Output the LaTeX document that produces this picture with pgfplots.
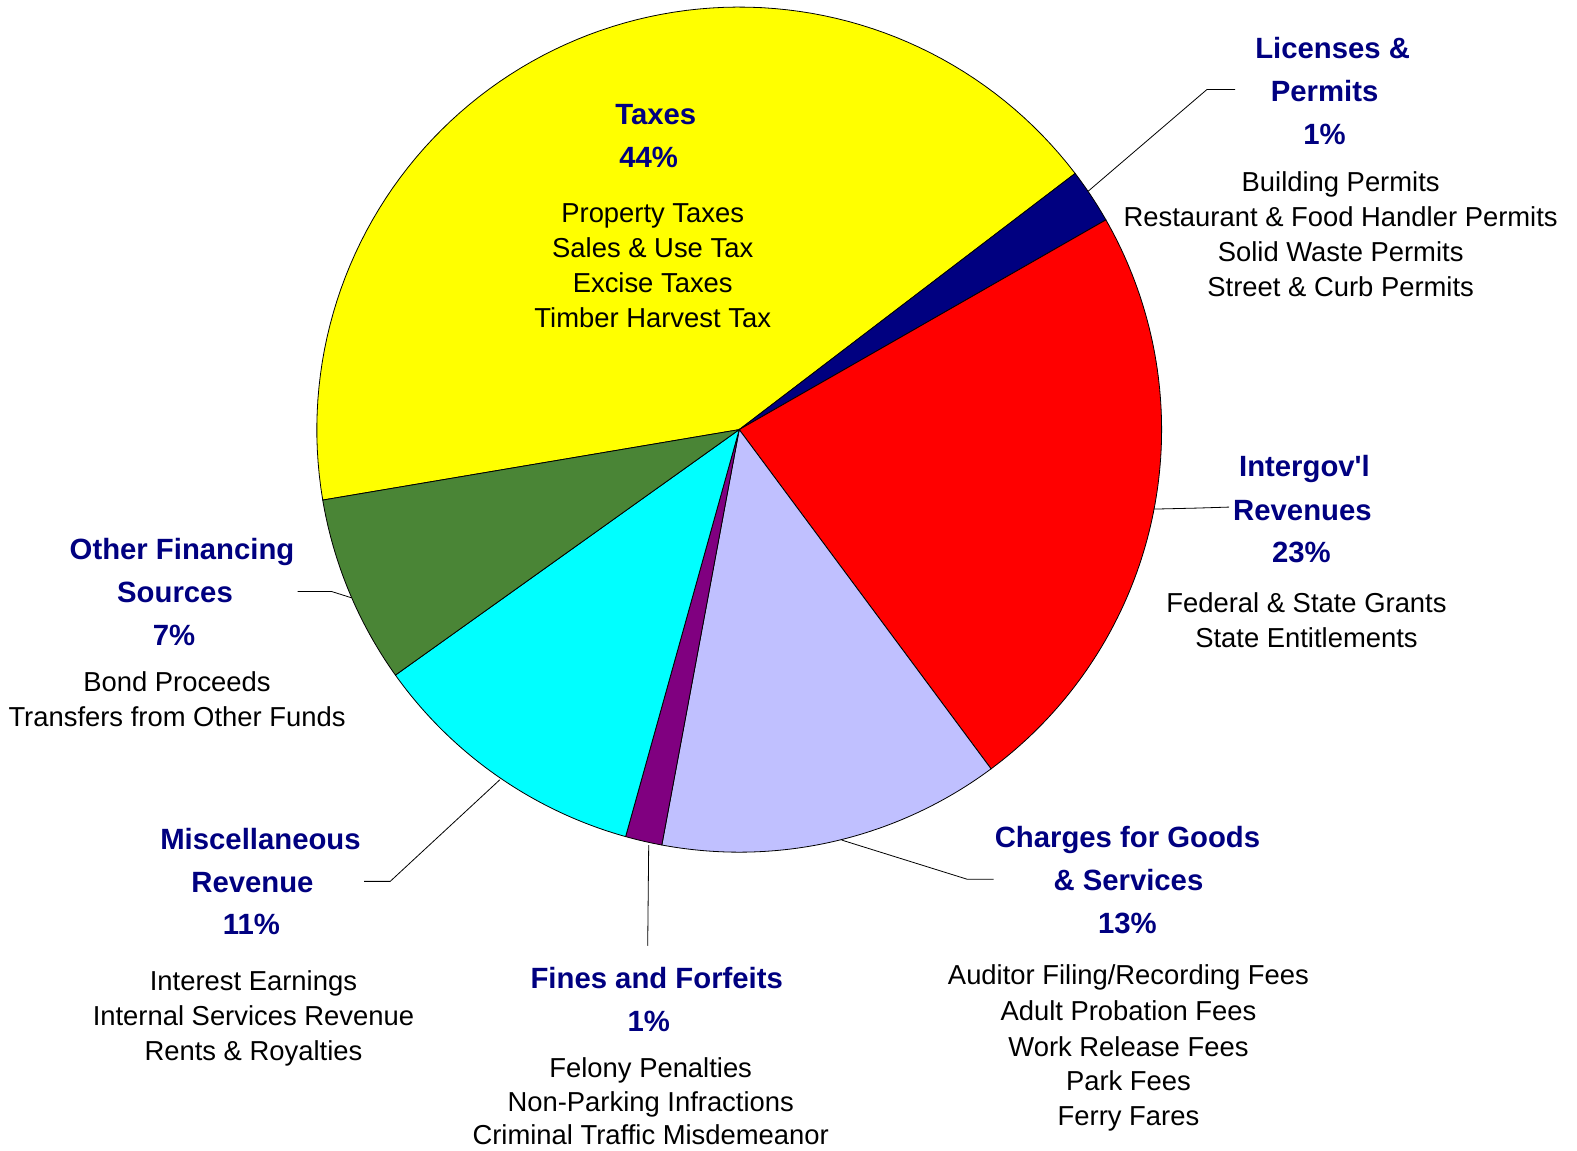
\documentclass[border=0pt]{standalone}
\usepackage{pgfplots}
\pgfplotsset{compat=1.18}
\usepackage{fontspec}
\setmainfont{Liberation Sans}
\newfontfamily\nolig{Liberation Sans}
\definecolor{navy}{RGB}{0,0,128}
\definecolor{ylw}{RGB}{255,255,0}
\definecolor{rd}{RGB}{255,0,0}
\definecolor{cyn}{RGB}{0,255,255}
\definecolor{lav}{RGB}{192,192,255}
\definecolor{purp}{RGB}{128,0,128}
\definecolor{grn}{RGB}{74,133,54}
\newcommand\rf{\fontsize{27.4}{30}\selectfont}
\newcommand\bff{\fontsize{29.3}{34}\selectfont\bfseries}
% slice: colour, cumulative percent start, cumulative percent end
\newcommand\slice[3]{\addplot[fill=#1, draw=black, line width=0.8pt, domain={189.6-3.6*#3}:{189.6-3.6*#2}, samples=90] ({735+420*cos(x)},{724+420*sin(x)}) -- (axis cs:735,724) -- cycle;}
\newcommand\T[3]{\node[anchor=base, font=\bff, text=navy, inner sep=0pt] at (axis cs:#1,#2) {#3};}
\newcommand\R[3]{\node[anchor=base, font=\rf, text=black, inner sep=0pt] at (axis cs:#1,#2) {#3};}
\begin{document}
\begin{tikzpicture}
\begin{axis}[at={(0,0)}, anchor=south west, scale only axis, width=1577pt, height=1151pt,
  xmin=0, xmax=1568, ymin=7, ymax=1151, hide axis, clip=false]
\addplot[draw=none] coordinates {(0,7) (1568,1151)};
% shares (percent): Taxes 42.3, Licenses 2.1, Intergov 23.1, Charges 13.1, Fines 1.4, Misc 10.8, Other 7.2
\slice{ylw}{0}{42.3}
\slice{navy}{42.3}{44.4}
\slice{rd}{44.4}{67.5}
\slice{lav}{67.5}{80.6}
\slice{purp}{80.6}{82.0}
\slice{cyn}{82.0}{92.8}
\slice{grn}{92.8}{100}
% leader lines
\addplot[black, line width=0.8pt] coordinates {(1082,961) (1200,1062) (1228,1062)};
\addplot[black, line width=0.8pt] coordinates {(1147,645) (1190,646) (1222,647)};
\addplot[black, line width=0.8pt] coordinates {(837,316) (962,277) (988,277)};
\addplot[black, line width=0.8pt] coordinates {(645,311) (644,211)};
\addplot[black, line width=0.8pt] coordinates {(497,376) (388,275) (362,275)};
\addplot[black, line width=0.8pt] coordinates {(349,557) (330,563) (296,563)};
% labels
\T{652}{1027}{Taxes}
\T{645}{985}{44\%}
\R{649}{930}{Property Taxes}
\R{649}{895}{Sales \& Use Tax}
\R{649}{860}{Excise Taxes}
\R{649}{825}{Timber Harvest Tax}
\T{1325}{1093}{Licenses \&}
\T{1317}{1050}{Permits}
\T{1317}{1007}{1\%}
\R{1333}{961}{Building Permits}
\R{1333}{926}{Restaurant \& Food Handler Permits}
\R{1333}{891}{Solid Waste Permits}
\R{1333}{856}{Street \& Curb Permits}
\T{1297}{677}{\nolig Intergov'l}
\T{1295}{634}{Revenues}
\T{1294}{592}{23\%}
\R{1299}{542}{Federal \& State Grants}
\R{1299}{507}{State Entitlements}
\T{1121}{309}{Charges for Goods}
\T{1122}{266}{\& Services}
\T{1121}{223}{13\%}
\R{1122}{172}{Auditor Filing/Recording Fees}
\R{1122}{137}{Adult Probation Fees}
\R{1122}{101}{Work Release Fees}
\R{1122}{67}{Park Fees}
\R{1122}{32}{Ferry Fares}
\T{653}{169}{Fines and Forfeits}
\T{645}{126}{1\%}
\R{647}{80}{Felony Penalties}
\R{647}{46}{Non-Parking Infractions}
\R{647}{13}{Criminal Traffic Misdemeanor}
\T{259}{307}{Miscellaneous}
\T{251}{264}{Revenue}
\T{250}{222}{11\%}
\R{252}{167}{Interest Earnings}
\R{252}{132}{Internal Services Revenue}
\R{252}{97}{Rents \& Royalties}
\T{181}{595}{Other Financing}
\T{174}{552}{Sources}
\T{173}{509}{7\%}
\R{176}{464}{Bond Proceeds}
\R{176}{429}{Transfers from Other Funds}
\end{axis}
\pgfresetboundingbox
\useasboundingbox (0,0) rectangle (1577pt,1151pt);
\end{tikzpicture}
\end{document}
